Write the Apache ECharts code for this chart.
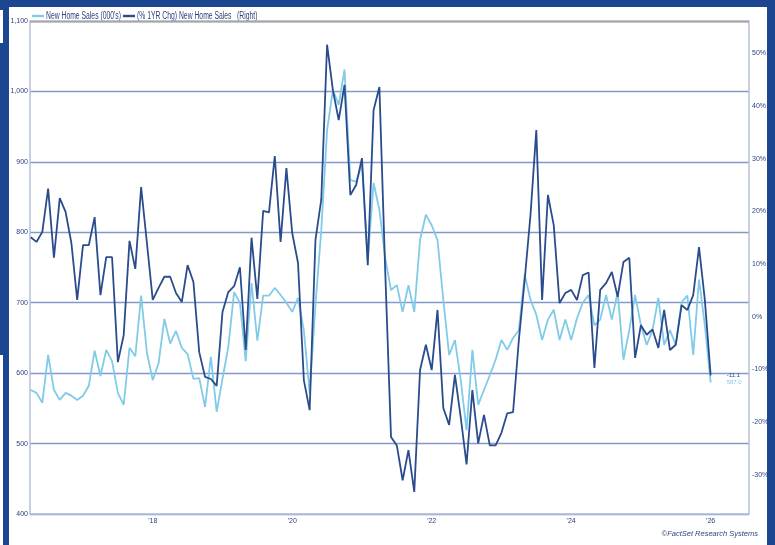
<!DOCTYPE html>
<html>
<head>
<meta charset="utf-8">
<script src="https://cdn.jsdelivr.net/npm/echarts@6/dist/echarts.min.js"></script>
<style>
  html, body { margin: 0; padding: 0; background: #ffffff; }
  #chart { width: 775px; height: 545px; }
</style>
</head>
<body>
<div id="chart"></div>
<script>
// Monthly series, first observation April 2016, last January 2026
const firstYear = 2016;
const firstMonth = 4;

// New Home Sales, SAAR (000's) — left axis
const salesThousands = [
  576, 572, 558, 626, 576, 562, 572, 568, 562, 568, 582, 632,
  596, 633, 617, 572, 555, 636, 624, 710, 629, 590, 614, 677,
  642, 660, 636, 627, 592, 593, 552, 623, 545, 592, 637, 715,
  700, 617, 728, 646, 710, 710, 721, 711, 700, 687, 707, 661,
  572, 697, 803, 945, 1002, 981, 1031, 874, 872, 896, 761, 870,
  832, 764, 718, 725, 687, 725, 687, 789, 825, 810, 789, 704,
  626, 647, 590, 519, 633, 555, 576, 597, 619, 647, 633, 650,
  661, 740, 704, 683, 647, 676, 690, 647, 676, 647, 678, 700,
  711, 668, 676, 711, 676, 715, 619, 661, 711, 668, 640, 661,
  707, 640, 661, 640, 701, 710, 626, 733, 668, 587.0
];

// New Home Sales, % change from one year earlier — right axis
const salesYoYPct = [
  15.1, 14.2, 16.1, 24.3, 11.2, 22.5, 19.9, 14.0, 3.2, 13.6, 13.6, 18.9,
  4.1, 11.3, 11.3, -8.6, -3.5, 14.4, 9.1, 24.6, 14.0, 3.2, 5.5, 7.6,
  7.6, 4.5, 2.8, 9.8, 6.6, -6.7, -11.4, -11.8, -13.1, 0.9, 4.7, 5.8,
  9.4, -6.3, 15.0, 3.4, 20.1, 19.8, 30.5, 14.2, 28.2, 15.9, 10.2, -12.0,
  -17.7, 14.6, 22.2, 51.6, 43.0, 37.3, 44.0, 23.1, 25.0, 30.1, 9.8, 39.2,
  43.6, 8.8, -22.8, -24.4, -31.0, -25.3, -33.2, -10.1, -5.3, -10.1, 1.3, -17.3,
  -20.5, -11.0, -19.1, -28.0, -13.9, -24.0, -18.6, -24.4, -24.4, -22.0, -18.3, -18.1,
  -4.4, 7.0, 19.3, 35.4, 3.2, 23.1, 17.4, 2.6, 4.5, 5.1, 3.2, 7.9,
  8.4, -9.7, 5.1, 6.4, 8.5, 3.8, 10.4, 11.2, -7.8, -1.6, -3.4, -2.4,
  -5.9, 1.3, -6.3, -5.3, 2.2, 1.3, 4.1, 13.2, 3.2, -11.1
];

// Axis ticks
const leftTicks = [400, 500, 600, 700, 800, 900, 1000, 1100];
const rightTicks = [-30, -20, -10, 0, 10, 20, 30, 40, 50];
const yearTicks = [2018, 2020, 2022, 2024, 2026];

const seriesNames = ["New Home Sales (000's)", "(% 1YR Chg) New Home Sales"];

// Decimal-year position of each monthly observation
const monthPos = salesThousands.map((_, i) => firstYear + (firstMonth - 1 + i) / 12);
const salesPts = salesThousands.map((v, i) => [monthPos[i], v]);
const yoyPts = salesYoYPct.map((v, i) => [monthPos[i], v]);

const NAVY = '#2b3f7e';
const FRAME = '#1d4690';
const LIGHT = '#7fcbe8';
const DARK = '#2a4c8c';
const FONT = '"Liberation Sans", Arial, sans-serif';
const NARROW = 0.68; // horizontal squeeze for the condensed legend type

const chart = echarts.init(document.getElementById('chart'), null, { renderer: 'canvas' });

chart.setOption({
  animation: false,
  backgroundColor: '#ffffff',
  textStyle: { fontFamily: FONT },
  graphic: [
    // page frame
    { type: 'rect', z: -10, shape: { x: 0, y: 0, width: 775, height: 545 }, style: { fill: FRAME } },
    { type: 'rect', z: -9, shape: { x: 9, y: 7, width: 758, height: 538 }, style: { fill: '#ffffff' } },
    { type: 'rect', z: -9, shape: { x: 0, y: 10, width: 3, height: 33 }, style: { fill: '#ffffff' } },
    { type: 'rect', z: -9, shape: { x: 0, y: 355, width: 3, height: 190 }, style: { fill: '#ffffff' } },
    // top border of the plot
    { type: 'line', z: 5, shape: { x1: 30, y1: 21.5, x2: 749, y2: 21.5 }, style: { stroke: '#a6a6a6', lineWidth: 2 } },
    // legend
    {
      type: 'group', x: 32, y: 16, z: 10,
      children: [
        { type: 'rect', shape: { x: 0, y: -1.2, width: 12, height: 2.4 }, style: { fill: LIGHT } },
        { type: 'text', x: 14, y: 0, scaleX: NARROW, style: { text: seriesNames[0], fill: NAVY, font: '10px ' + FONT, verticalAlign: 'middle' } },
        { type: 'rect', shape: { x: 91, y: -1.2, width: 12, height: 2.4 }, style: { fill: DARK } },
        { type: 'text', x: 105, y: 0, scaleX: NARROW, style: { text: seriesNames[1], fill: NAVY, font: '10px ' + FONT, verticalAlign: 'middle' } },
        { type: 'text', x: 205, y: 0, scaleX: NARROW, style: { text: '(Right)', fill: NAVY, font: '10px ' + FONT, verticalAlign: 'middle' } }
      ]
    },
    // source note
    { type: 'text', right: 17, top: 530, style: { text: '©FactSet Research Systems', fill: NAVY, font: 'italic 7.5px ' + FONT } }
  ],
  grid: { left: 30, right: 26, top: 21, bottom: 31, containLabel: false },
  xAxis: {
    type: 'value',
    min: 2016.24, max: 2026.55,
    axisLine: { show: true, onZero: false, lineStyle: { color: '#b4c0da', width: 1.5 } },
    axisTick: { show: false },
    splitLine: { show: false },
    axisLabel: {
      customValues: yearTicks,
      color: NAVY, fontSize: 7, margin: 4,
      formatter: v => "'" + String(Math.round(v)).slice(2)
    }
  },
  yAxis: [
    {
      type: 'value', position: 'left',
      min: leftTicks[0], max: leftTicks[leftTicks.length - 1], interval: 100,
      axisLine: { show: true, lineStyle: { color: '#b4c0da', width: 1.5 } },
      axisTick: { show: false },
      axisLabel: {
        color: NAVY, fontSize: 7, margin: 2,
        formatter: v => v.toLocaleString('en-US')
      },
      splitLine: { show: true, lineStyle: { color: '#8399c6', width: 1.3 } }
    },
    {
      type: 'value', position: 'right',
      min: -37.4, max: 56.1,
      axisLine: { show: true, lineStyle: { color: '#b4c0da', width: 1.5 } },
      axisTick: { show: false },
      splitLine: { show: false },
      axisLabel: {
        customValues: rightTicks,
        color: NAVY, fontSize: 7, margin: 3,
        formatter: v => v + '%'
      }
    }
  ],
  series: [
    {
      name: seriesNames[0], type: 'line', yAxisIndex: 0,
      data: salesPts, showSymbol: false, symbol: 'none',
      lineStyle: { color: LIGHT, width: 1.8 }, itemStyle: { color: LIGHT },
      endLabel: {
        show: true, distance: 16, color: LIGHT, fontSize: 6,
        formatter: p => p.value[1].toFixed(1)
      }
    },
    {
      name: seriesNames[1], type: 'line', yAxisIndex: 1,
      data: yoyPts, showSymbol: false, symbol: 'none',
      lineStyle: { color: DARK, width: 1.8 }, itemStyle: { color: DARK },
      endLabel: {
        show: true, distance: 16, color: DARK, fontSize: 6,
        formatter: p => p.value[1].toFixed(1)
      }
    }
  ]
});
</script>
</body>
</html>
